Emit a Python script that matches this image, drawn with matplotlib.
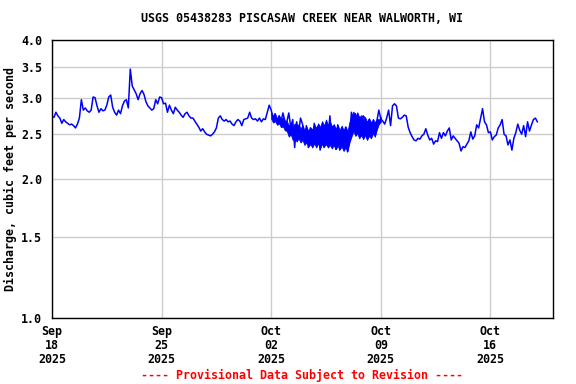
import numpy as np
import pandas as pd
import matplotlib
matplotlib.use("Agg")
import matplotlib.pyplot as plt
import matplotlib.dates as mdates
from matplotlib.ticker import FixedLocator, FormatStrFormatter, NullLocator

# discharge, cfs, every 3 hours from 2025-09-18 00:00 (one row per day)
discharge = [
    2.73, 2.72, 2.79, 2.74, 2.71, 2.64, 2.69, 2.66,  # Sep 18
    2.64, 2.62, 2.63, 2.61, 2.58, 2.63, 2.71, 2.97,
    2.82, 2.85, 2.81, 2.79, 2.82, 3.01, 3.00, 2.88,
    2.79, 2.84, 2.81, 2.82, 2.89, 3.01, 3.04, 2.86,
    2.79, 2.75, 2.82, 2.77, 2.88, 2.95, 2.97, 2.85,
    3.46, 3.18, 3.12, 3.06, 2.97, 3.06, 3.11, 3.05,
    2.94, 2.88, 2.85, 2.82, 2.84, 2.97, 2.91, 3.01,
    3.00, 2.91, 2.92, 2.79, 2.89, 2.82, 2.77, 2.86,  # Sep 25
    2.82, 2.79, 2.75, 2.72, 2.77, 2.79, 2.74, 2.71,
    2.71, 2.67, 2.63, 2.59, 2.54, 2.57, 2.53, 2.50,
    2.49, 2.48, 2.50, 2.53, 2.58, 2.71, 2.74, 2.69,
    2.67, 2.69, 2.66, 2.67, 2.63, 2.61, 2.66, 2.69,
    2.67, 2.61, 2.69, 2.70, 2.71, 2.79, 2.71, 2.69,
    2.70, 2.67, 2.71, 2.66, 2.70, 2.69, 2.79, 2.89,
    2.82, 2.71, 2.77, 2.66, 2.74, 2.66, 2.78, 2.67,  # Oct 02
    2.66, 2.78, 2.59, 2.69, 2.34, 2.66, 2.52, 2.71,
    2.63, 2.43, 2.61, 2.34, 2.58, 2.37, 2.64, 2.41,
    2.58, 2.31, 2.61, 2.34, 2.55, 2.43, 2.74, 2.36,
    2.55, 2.32, 2.62, 2.31, 2.58, 2.36, 2.59, 2.29,
    2.43, 2.79, 2.63, 2.77, 2.55, 2.71, 2.49, 2.74,
    2.71, 2.45, 2.69, 2.50, 2.66, 2.55, 2.67, 2.82,
    2.70, 2.67, 2.63, 2.71, 2.82, 2.61, 2.88, 2.91,  # Oct 09
    2.88, 2.71, 2.70, 2.72, 2.75, 2.74, 2.59, 2.52,
    2.47, 2.43, 2.42, 2.45, 2.44, 2.48, 2.50, 2.57,
    2.49, 2.43, 2.45, 2.38, 2.42, 2.41, 2.52, 2.45,
    2.52, 2.48, 2.54, 2.58, 2.43, 2.48, 2.45, 2.42,
    2.39, 2.30, 2.35, 2.34, 2.38, 2.42, 2.53, 2.44,
    2.48, 2.62, 2.58, 2.71, 2.84, 2.66, 2.62, 2.52,
    2.53, 2.43, 2.47, 2.49, 2.58, 2.62, 2.69, 2.50,  # Oct 16
    2.48, 2.37, 2.43, 2.31, 2.45, 2.52, 2.63, 2.55,
    2.50, 2.61, 2.47, 2.66, 2.54, 2.62, 2.69, 2.71,
    2.66,
]

# 15-minute high / low within each 3-hour block, Oct 02 - Oct 09 (noisy stretch)
band_hi = [
    2.79, 2.73, 2.77, 2.70, 2.75, 2.69, 2.72, 2.66,  # Oct 02
    2.67, 2.61, 2.65, 2.59, 2.64, 2.58, 2.63, 2.57,
    2.62, 2.55, 2.60, 2.54, 2.59, 2.56, 2.63, 2.58,
    2.64, 2.59, 2.67, 2.61, 2.69, 2.62, 2.67, 2.60,
    2.63, 2.57, 2.62, 2.55, 2.61, 2.55, 2.60, 2.54,
    2.66, 2.74, 2.80, 2.73, 2.79, 2.72, 2.75, 2.69,
    2.72, 2.66, 2.71, 2.65, 2.70, 2.65, 2.70, 2.69,
    2.73,
]
band_lo = [
    2.70, 2.65, 2.67, 2.62, 2.64, 2.59, 2.60, 2.55,  # Oct 02
    2.54, 2.47, 2.50, 2.43, 2.46, 2.41, 2.45, 2.40,
    2.43, 2.37, 2.40, 2.35, 2.38, 2.34, 2.39, 2.34,
    2.39, 2.33, 2.38, 2.35, 2.38, 2.34, 2.37, 2.33,
    2.37, 2.32, 2.36, 2.32, 2.35, 2.30, 2.34, 2.30,
    2.40, 2.47, 2.54, 2.48, 2.51, 2.45, 2.49, 2.44,
    2.49, 2.43, 2.48, 2.45, 2.51, 2.47, 2.56, 2.63,
    2.66,
]

yticks = [1.0, 1.5, 2.0, 2.5, 3.0, 3.5, 4.0]
xtick_days = ["2025-09-18", "2025-09-25", "2025-10-02", "2025-10-09", "2025-10-16"]

title = "USGS 05438283 PISCASAW CREEK NEAR WALWORTH, WI"
ylabel = "Discharge, cubic feet per second"
footer = "---- Provisional Data Subject to Revision ----"

plt.rcParams["font.family"] = ["DejaVu Sans Mono"]
plt.rcParams["font.weight"] = "bold"
fs = 8.4
blue = "#0000ff"

times = pd.date_range("2025-09-18", periods=len(discharge), freq="3h")
band_times = pd.date_range("2025-10-02", periods=len(band_hi), freq="3h")

fig = plt.figure(figsize=(5.76, 3.84), dpi=100)
ax = fig.add_axes([52 / 576, 66 / 384, 501 / 576, 278 / 384])

ax.fill_between(band_times, band_lo, band_hi, color=blue, lw=0.6)
ax.plot(times, discharge, color=blue, lw=1.1)

ax.set_yscale("log")
ax.set_ylim(1.0, 4.0)
ax.yaxis.set_major_locator(FixedLocator(yticks))
ax.yaxis.set_major_formatter(FormatStrFormatter("%.1f"))
ax.yaxis.set_minor_locator(NullLocator())

ax.set_xlim(pd.Timestamp("2025-09-18"), pd.Timestamp("2025-10-20"))
ax.set_xticks(pd.to_datetime(xtick_days))
ax.xaxis.set_major_formatter(mdates.DateFormatter("%b\n%d\n%Y"))
ax.xaxis.set_minor_locator(NullLocator())

ax.grid(True, color="#cccccc", lw=1.0)
ax.set_axisbelow(True)
for s in ax.spines.values():
    s.set_color("black")
    s.set_linewidth(1.0)

ax.tick_params(axis="both", length=0, labelsize=fs)
ax.tick_params(axis="y", pad=7)
ax.tick_params(axis="x", pad=5)
for lab in ax.get_xticklabels():
    lab.set_linespacing(1.1)

ax.set_ylabel(ylabel, fontsize=fs, fontweight="bold")
ax.yaxis.set_label_coords((17 - 52) / 501, 0.5)

fig.text(302 / 576, 1 - 19 / 384, title, ha="center", va="center",
         fontsize=fs, fontweight="bold")
fig.text(302 / 576, 1 - 375 / 384, footer, ha="center", va="center",
         fontsize=fs, fontweight="bold", color="red")

fig.savefig("out.png", dpi=100)
